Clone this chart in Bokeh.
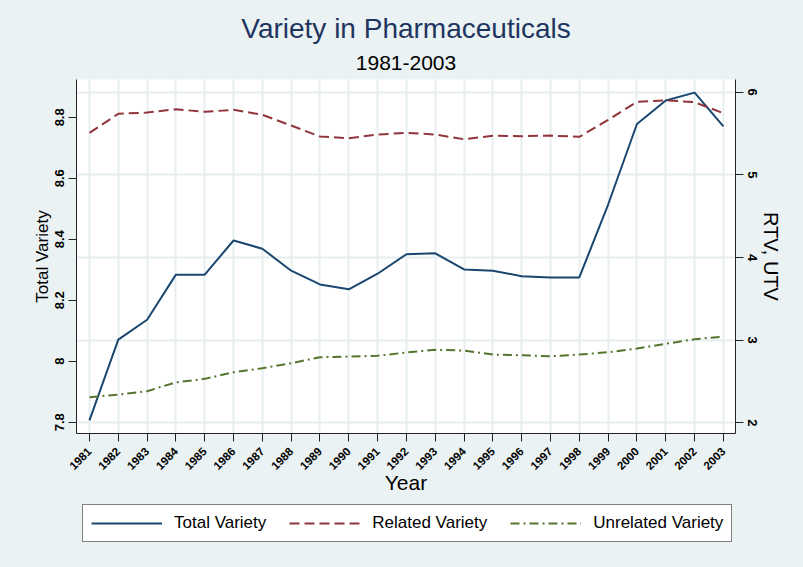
import math
from bokeh.plotting import figure
from bokeh.layouts import column
from bokeh.models import (Range1d, LinearAxis, FixedTicker, Grid, Legend,
                          LegendItem, Title)
from bokeh.embed import file_html
from bokeh.resources import INLINE

# ---------------- data ----------------
years = list(range(1981, 2004))
total_variety = [7.806, 8.071, 8.136, 8.284, 8.284, 8.396, 8.369, 8.297, 8.252,
                 8.236, 8.287, 8.351, 8.354, 8.301, 8.297, 8.279, 8.275, 8.275,
                 8.514, 8.778, 8.855, 8.881, 8.770]
related_variety = [5.509, 5.739, 5.754, 5.794, 5.763, 5.787, 5.727, 5.597, 5.464,
                   5.443, 5.488, 5.509, 5.488, 5.431, 5.473, 5.468, 5.476, 5.460,
                   5.666, 5.884, 5.903, 5.879, 5.746]
unrelated_variety = [2.310, 2.342, 2.382, 2.491, 2.532, 2.612, 2.661, 2.721, 2.794,
                     2.802, 2.811, 2.852, 2.883, 2.875, 2.826, 2.818, 2.806, 2.826,
                     2.854, 2.899, 2.956, 3.012, 3.044]
left_ticks = [7.8, 8.0, 8.2, 8.4, 8.6, 8.8]
left_tick_labels = ["7.8", "8", "8.2", "8.4", "8.6", "8.8"]
right_ticks = [2, 3, 4, 5, 6]
right_tick_labels = ["2", "3", "4", "5", "6"]
series_names = ["Total Variety", "Related Variety", "Unrelated Variety"]

# ---------------- style ----------------
FONT = "Liberation Sans"
BG = "#EAF2F3"
GRID = "#E6EEF0"
NAVY = "#1A476F"
MAROON = "#90353B"
GREEN = "#55752F"
DASH_RTV = "10 5"
DASH_UTV = "9 4 2 4"

p = figure(width=803, height=500, output_backend="svg", toolbar_location=None,
           x_range=Range1d(1980.55, 2003.42), y_range=Range1d(7.763, 8.924),
           min_border_left=76, min_border_right=68, min_border_top=79,
           min_border_bottom=67, background_fill_color="white",
           border_fill_color=BG, outline_line_color=None)
p.extra_y_ranges = {"right": Range1d(1.871, 6.154)}

# grids
p.xgrid.ticker = FixedTicker(ticks=years)
p.xgrid.grid_line_color = GRID
p.xgrid.grid_line_width = 2
p.ygrid.visible = False
p.add_layout(Grid(dimension=1, ticker=FixedTicker(ticks=right_ticks),
                  y_range_name="right", grid_line_color=GRID,
                  grid_line_width=2))


def style_axis(ax, label_size, title_size):
    ax.axis_line_color = "#222222"
    ax.axis_line_width = 1
    ax.major_tick_line_color = "#222222"
    ax.major_tick_out = 8
    ax.major_tick_in = 0
    ax.minor_tick_line_color = None
    ax.major_label_text_font = FONT
    ax.major_label_text_font_size = label_size
    ax.major_label_text_font_style = "bold"
    ax.major_label_text_color = "black"
    ax.axis_label_text_font = FONT
    ax.axis_label_text_font_size = title_size
    ax.axis_label_text_font_style = "normal"
    ax.axis_label_text_color = "black"


# left axis
ly = p.yaxis[0]
ly.ticker = FixedTicker(ticks=left_ticks)
ly.major_label_overrides = {t: s for t, s in zip(left_ticks, left_tick_labels)}
ly.major_label_orientation = "vertical"
ly.axis_label = "Total Variety"
ly.major_label_standoff = 4
ly.axis_label_standoff = 1
style_axis(ly, "13px", "17px")

# right axis
ry = LinearAxis(y_range_name="right", ticker=FixedTicker(ticks=right_ticks),
                axis_label="RTV, UTV")
ry.major_label_overrides = {t: s for t, s in zip(right_ticks, right_tick_labels)}
ry.major_label_orientation = "vertical"
ry.major_label_standoff = 4
ry.axis_label_standoff = 0
style_axis(ry, "13px", "20px")
p.add_layout(ry, "right")

# x axis
xa = p.xaxis[0]
xa.ticker = FixedTicker(ticks=years)
xa.major_label_orientation = math.pi / 4
xa.axis_label = "Year"
xa.major_label_standoff = 8
xa.axis_label_standoff = -5
style_axis(xa, "11.5px", "21px")

# lines
p.line(years, total_variety, line_color=NAVY, line_width=2)
p.line(years, related_variety, line_color=MAROON, line_width=2,
       line_dash=DASH_RTV, y_range_name="right")
p.line(years, unrelated_variety, line_color=GREEN, line_width=2,
       line_dash=DASH_UTV, y_range_name="right")

# titles (subtitle first -> closest to plot)
sub = Title(text="1981-2003", align="center", text_font=FONT,
            text_font_size="21px", text_font_style="normal",
            text_color="black", standoff=20)
main = Title(text="Variety in Pharmaceuticals", align="center", text_font=FONT,
             text_font_size="28px", text_font_style="normal",
             text_color="#1E3560", standoff=0)
p.add_layout(sub, "above")
p.add_layout(main, "above")

# ---------------- legend strip ----------------
# (frame of this strip is aligned with the main plot frame by the column)
lg = figure(width=803, height=67, output_backend="svg", toolbar_location=None,
            x_range=Range1d(0, 1), y_range=Range1d(0, 1),
            x_axis_type=None, y_axis_type=None,
            min_border_left=0, min_border_right=0, min_border_top=0,
            min_border_bottom=0, background_fill_color=BG,
            border_fill_color=BG, outline_line_color=None)
lg.xgrid.visible = False
lg.ygrid.visible = False
# key renderers: single-point lines (draw nothing, outside the strip's range)
k1 = lg.line(x=years[:1], y=total_variety[:1], line_color=NAVY, line_width=2)
k2 = lg.line(x=years[:1], y=related_variety[:1], line_color=MAROON,
             line_width=2, line_dash=DASH_RTV)
k3 = lg.line(x=years[:1], y=unrelated_variety[:1], line_color=GREEN,
             line_width=2, line_dash=DASH_UTV)

legend = Legend(items=[LegendItem(label=series_names[0], renderers=[k1]),
                       LegendItem(label=series_names[1], renderers=[k2]),
                       LegendItem(label=series_names[2], renderers=[k3])],
                orientation="horizontal", location=(6, 25),
                glyph_width=71, glyph_height=20, label_standoff=12,
                spacing=23, padding=8, margin=0,
                border_line_color="black", border_line_width=1,
                background_fill_color="white", background_fill_alpha=1,
                label_text_font=FONT, label_text_font_size="17px",
                label_text_color="black")
lg.add_layout(legend)

layout = column(p, lg, spacing=0, styles={"background-color": BG})
open("out.html", "w").write(file_html(layout, INLINE))
